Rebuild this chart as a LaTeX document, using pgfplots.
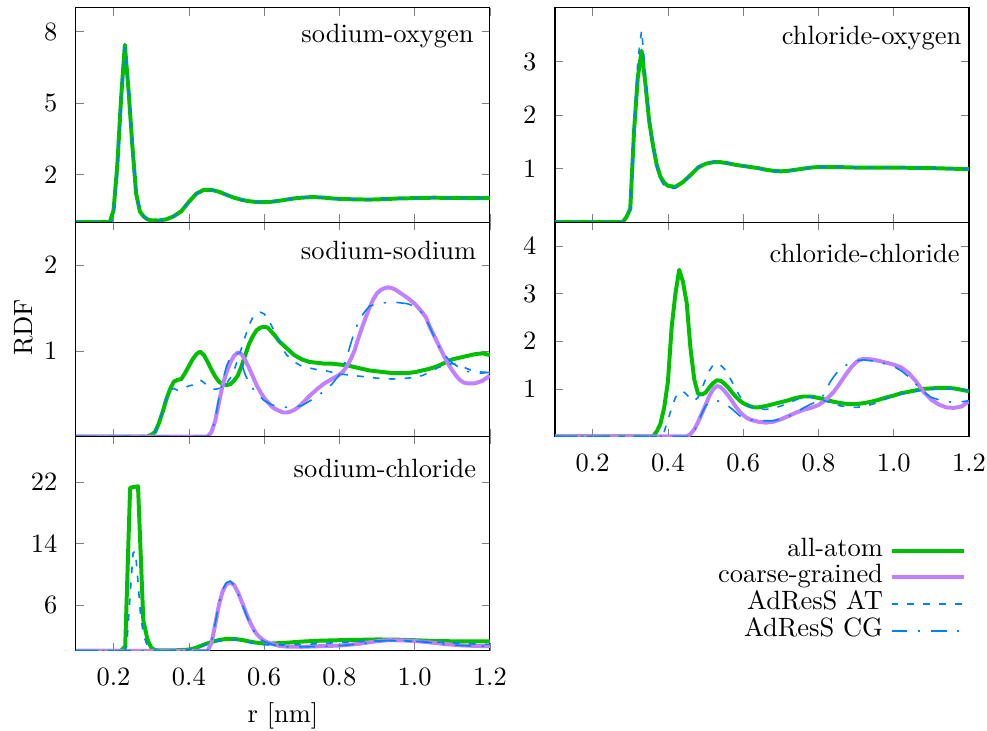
\documentclass[border=0pt]{standalone}
\usepackage{pgfplots}
\pgfplotsset{compat=1.18}
\usepgfplotslibrary{groupplots}
\usetikzlibrary{calc}

\definecolor{cAA}{RGB}{0,190,0}
\definecolor{cCG}{RGB}{192,128,255}
\definecolor{cAd}{RGB}{0,128,255}

\pgfplotsset{
  allatom/.style={color=cAA, line width=1.5pt, line join=round},
  coarse/.style={color=cCG, line width=1.5pt, line join=round},
  adat/.style={color=cAd, line width=0.6pt, dash pattern=on 2.5pt off 3.5pt},
  adcg/.style={color=cAd, line width=0.6pt, dash pattern=on 6pt off 4pt on 0.8pt off 4pt},
}
\newcommand{\plabel}[3]{\node[anchor=north east, inner sep=0pt, xshift=-#2, yshift=-#3] at (rel axis cs:1,1) {#1};}

\begin{document}
\begin{tikzpicture}
\begin{groupplot}[
    group style={group size=2 by 3, horizontal sep=24.6pt, vertical sep=0pt},
    width=156.5pt, height=81pt, scale only axis,
    xmin=0.1, xmax=1.2,
    xtick={0.2,0.4,0.6,0.8,1.0,1.2},
    xticklabels={},
    xticklabel style={/pgf/number format/.cd, fixed, fixed zerofill, precision=1},
    major tick length=3pt,
    xticklabel shift=3pt, yticklabel shift=3.5pt,
    ymin=0, no markers,
    legend cell align=right, legend plot pos=right,
    legend image code/.code={\draw[#1] (0pt,0pt) -- (27.2pt,0pt);},
  ]

% sodium-oxygen
\nextgroupplot[ymax=9, ytick={2,5,8}]
\addplot[allatom] coordinates {(0.10,0) (0.19,0) (0.20,0.5) (0.21,2.4) (0.22,5.2) (0.23,7.45) (0.24,5.5) (0.25,3.2) (0.26,1.2) (0.27,0.45) (0.28,0.24) (0.29,0.12) (0.30,0.08) (0.32,0.07) (0.34,0.12) (0.36,0.25) (0.38,0.46) (0.40,0.85) (0.42,1.2) (0.44,1.36) (0.46,1.36) (0.48,1.28) (0.50,1.15) (0.52,1.03) (0.54,0.94) (0.56,0.88) (0.58,0.85) (0.60,0.84) (0.62,0.86) (0.64,0.90) (0.66,0.95) (0.68,1.00) (0.70,1.03) (0.72,1.05) (0.74,1.05) (0.76,1.03) (0.78,1.00) (0.80,0.98) (0.84,0.96) (0.88,0.95) (0.92,0.97) (0.96,1.00) (1.00,1.01) (1.05,1.03) (1.10,1.02) (1.15,1.01) (1.20,1.01)};
\addplot[adat] coordinates {(0.10,0) (0.195,0) (0.20,0.3) (0.21,1.9) (0.22,5.0) (0.23,7.35) (0.24,5.6) (0.25,3.3) (0.26,1.2) (0.27,0.45) (0.28,0.24) (0.29,0.12) (0.30,0.08) (0.32,0.07) (0.34,0.12) (0.36,0.25) (0.38,0.46) (0.40,0.85) (0.42,1.2) (0.44,1.36) (0.46,1.36) (0.48,1.28) (0.50,1.15) (0.52,1.03) (0.54,0.94) (0.56,0.88) (0.58,0.85) (0.60,0.84) (0.62,0.86) (0.64,0.90) (0.66,0.95) (0.68,1.00) (0.70,1.03) (0.72,1.05) (0.74,1.05) (0.76,1.03) (0.78,1.00) (0.80,0.98) (0.84,0.96) (0.88,0.95) (0.92,0.97) (0.96,1.00) (1.00,1.01) (1.05,1.03) (1.10,1.02) (1.15,1.01) (1.20,1.01)};
\plabel{sodium-oxygen}{6.0pt}{6.0pt}

% chloride-oxygen
\nextgroupplot[ymax=4, ytick={1,2,3}]
\addplot[allatom] coordinates {(0.10,0) (0.28,0) (0.29,0.1) (0.30,0.25) (0.31,1.7) (0.32,2.7) (0.33,3.2) (0.34,2.6) (0.35,1.9) (0.36,1.45) (0.37,1.08) (0.38,0.85) (0.39,0.74) (0.40,0.68) (0.42,0.66) (0.44,0.75) (0.46,0.88) (0.48,1.02) (0.50,1.09) (0.52,1.12) (0.54,1.12) (0.56,1.10) (0.58,1.07) (0.60,1.05) (0.62,1.03) (0.64,1.01) (0.66,0.98) (0.68,0.96) (0.70,0.95) (0.72,0.96) (0.74,0.98) (0.76,1.00) (0.78,1.02) (0.80,1.03) (0.85,1.03) (0.90,1.02) (1.00,1.02) (1.10,1.01) (1.20,0.99)};
\addplot[adat] coordinates {(0.10,0) (0.28,0) (0.29,0.1) (0.30,0.25) (0.31,1.8) (0.32,3.0) (0.33,3.58) (0.34,2.8) (0.35,1.95) (0.36,1.4) (0.37,1.02) (0.38,0.8) (0.39,0.68) (0.40,0.62) (0.42,0.64) (0.44,0.74) (0.46,0.88) (0.48,1.03) (0.50,1.10) (0.52,1.13) (0.54,1.13) (0.56,1.10) (0.58,1.07) (0.60,1.05) (0.62,1.03) (0.64,1.01) (0.66,0.98) (0.68,0.96) (0.70,0.95) (0.72,0.96) (0.74,0.98) (0.76,1.00) (0.78,1.02) (0.80,1.03) (0.85,1.03) (0.90,1.02) (1.00,1.02) (1.10,1.01) (1.20,0.99)};
\plabel{chloride-oxygen}{2.7pt}{6.8pt}

% sodium-sodium
\nextgroupplot[ymax=2.5, ytick={1,2},
  ylabel={RDF}, ylabel style={at={(axis description cs:0,0.51)}, anchor=center, yshift=19.7pt}]
\addplot[allatom] coordinates {(0.10,0) (0.29,0) (0.30,0.02) (0.31,0.05) (0.32,0.15) (0.33,0.28) (0.34,0.43) (0.35,0.55) (0.36,0.64) (0.37,0.66) (0.38,0.67) (0.39,0.74) (0.40,0.82) (0.41,0.90) (0.42,0.96) (0.43,0.99) (0.44,0.95) (0.45,0.87) (0.46,0.78) (0.47,0.70) (0.48,0.64) (0.49,0.61) (0.50,0.60) (0.51,0.61) (0.52,0.65) (0.53,0.71) (0.54,0.82) (0.55,0.95) (0.56,1.08) (0.57,1.17) (0.58,1.24) (0.59,1.27) (0.60,1.28) (0.61,1.27) (0.62,1.22) (0.63,1.17) (0.64,1.11) (0.66,1.03) (0.68,0.95) (0.70,0.90) (0.72,0.87) (0.74,0.86) (0.76,0.85) (0.78,0.85) (0.80,0.84) (0.82,0.83) (0.84,0.81) (0.86,0.79) (0.88,0.77) (0.90,0.76) (0.92,0.75) (0.94,0.74) (0.96,0.74) (0.98,0.74) (1.00,0.75) (1.02,0.77) (1.04,0.79) (1.06,0.82) (1.08,0.86) (1.10,0.90) (1.12,0.92) (1.14,0.94) (1.16,0.96) (1.18,0.97) (1.20,0.95)};
\addplot[coarse] coordinates {(0.10,0) (0.45,0) (0.46,0.05) (0.47,0.18) (0.48,0.40) (0.49,0.60) (0.50,0.75) (0.51,0.86) (0.52,0.94) (0.53,0.98) (0.54,0.96) (0.55,0.89) (0.56,0.80) (0.57,0.70) (0.58,0.60) (0.59,0.52) (0.60,0.45) (0.61,0.40) (0.62,0.35) (0.63,0.32) (0.64,0.30) (0.65,0.28) (0.66,0.28) (0.67,0.29) (0.68,0.31) (0.69,0.34) (0.70,0.38) (0.72,0.47) (0.74,0.55) (0.76,0.62) (0.78,0.67) (0.80,0.72) (0.81,0.76) (0.82,0.82) (0.83,0.90) (0.84,1.00) (0.85,1.14) (0.86,1.27) (0.87,1.39) (0.88,1.50) (0.89,1.60) (0.90,1.67) (0.91,1.71) (0.92,1.73) (0.93,1.74) (0.94,1.73) (0.95,1.71) (0.96,1.68) (0.98,1.62) (1.00,1.55) (1.02,1.45) (1.03,1.39) (1.04,1.28) (1.05,1.19) (1.06,1.10) (1.07,1.01) (1.08,0.92) (1.09,0.84) (1.10,0.77) (1.11,0.71) (1.12,0.66) (1.13,0.63) (1.14,0.62) (1.16,0.62) (1.18,0.65) (1.20,0.71)};
\addplot[adat] coordinates {(0.10,0) (0.29,0) (0.30,0.02) (0.31,0.05) (0.32,0.15) (0.33,0.30) (0.34,0.45) (0.35,0.54) (0.36,0.56) (0.37,0.54) (0.38,0.55) (0.39,0.57) (0.40,0.59) (0.41,0.60) (0.42,0.63) (0.43,0.66) (0.44,0.63) (0.45,0.59) (0.46,0.56) (0.47,0.55) (0.48,0.56) (0.49,0.59) (0.50,0.62) (0.51,0.68) (0.52,0.77) (0.53,0.90) (0.54,1.03) (0.55,1.17) (0.56,1.30) (0.57,1.39) (0.58,1.44) (0.59,1.45) (0.60,1.43) (0.61,1.38) (0.62,1.29) (0.63,1.20) (0.64,1.11) (0.65,1.02) (0.66,0.95) (0.68,0.87) (0.70,0.82) (0.72,0.80) (0.74,0.78) (0.76,0.77) (0.78,0.75) (0.80,0.73) (0.82,0.72) (0.84,0.71) (0.86,0.70) (0.90,0.68) (0.94,0.67) (0.98,0.68) (1.00,0.69) (1.02,0.71) (1.04,0.75) (1.06,0.80) (1.08,0.83) (1.10,0.85) (1.12,0.83) (1.14,0.79) (1.16,0.76) (1.18,0.75) (1.20,0.75)};
\addplot[adcg] coordinates {(0.10,0) (0.45,0) (0.46,0.05) (0.47,0.20) (0.48,0.45) (0.49,0.65) (0.50,0.82) (0.51,0.92) (0.52,0.96) (0.53,0.97) (0.54,0.85) (0.55,0.72) (0.56,0.63) (0.57,0.56) (0.58,0.50) (0.60,0.42) (0.62,0.37) (0.64,0.35) (0.66,0.34) (0.68,0.34) (0.70,0.36) (0.72,0.41) (0.74,0.47) (0.76,0.53) (0.78,0.61) (0.80,0.72) (0.81,0.80) (0.82,0.93) (0.83,1.08) (0.84,1.22) (0.85,1.33) (0.86,1.41) (0.87,1.47) (0.88,1.52) (0.90,1.55) (0.92,1.56) (0.94,1.57) (0.96,1.56) (0.98,1.55) (1.00,1.52) (1.02,1.44) (1.03,1.37) (1.04,1.28) (1.05,1.18) (1.06,1.09) (1.07,1.01) (1.08,0.95) (1.09,0.90) (1.10,0.86) (1.12,0.80) (1.14,0.76) (1.16,0.74) (1.18,0.74) (1.20,0.75)};
\plabel{sodium-sodium}{5.0pt}{6.9pt}

% chloride-chloride
\nextgroupplot[ymax=4.5, ytick={1,2,3,4}, xticklabels={0.2,0.4,0.6,0.8,1.0,1.2}]
\addplot[allatom] coordinates {(0.10,0) (0.36,0) (0.37,0.1) (0.38,0.26) (0.39,0.6) (0.40,1.15) (0.41,2.3) (0.42,3.0) (0.43,3.5) (0.44,3.25) (0.45,2.8) (0.46,1.85) (0.47,1.2) (0.48,0.9) (0.49,0.88) (0.50,0.92) (0.51,1.03) (0.52,1.12) (0.53,1.18) (0.54,1.17) (0.55,1.11) (0.56,1.03) (0.57,0.93) (0.58,0.84) (0.59,0.76) (0.60,0.70) (0.61,0.66) (0.62,0.63) (0.63,0.61) (0.64,0.61) (0.66,0.64) (0.68,0.68) (0.70,0.72) (0.72,0.76) (0.74,0.81) (0.76,0.84) (0.78,0.84) (0.80,0.81) (0.82,0.77) (0.84,0.73) (0.86,0.70) (0.88,0.68) (0.90,0.68) (0.92,0.70) (0.94,0.73) (0.96,0.77) (0.98,0.82) (1.00,0.86) (1.02,0.91) (1.04,0.94) (1.06,0.97) (1.08,1.00) (1.10,1.01) (1.12,1.02) (1.14,1.02) (1.16,1.01) (1.18,0.98) (1.20,0.95)};
\addplot[coarse] coordinates {(0.10,0) (0.45,0) (0.46,0.05) (0.47,0.15) (0.48,0.30) (0.49,0.48) (0.50,0.66) (0.51,0.85) (0.52,0.99) (0.53,1.06) (0.54,1.04) (0.55,0.96) (0.56,0.86) (0.57,0.75) (0.58,0.63) (0.59,0.53) (0.60,0.45) (0.61,0.39) (0.62,0.35) (0.64,0.31) (0.66,0.29) (0.68,0.31) (0.70,0.36) (0.72,0.43) (0.74,0.50) (0.76,0.56) (0.78,0.60) (0.80,0.66) (0.82,0.77) (0.84,0.93) (0.85,1.04) (0.86,1.15) (0.87,1.27) (0.88,1.38) (0.89,1.48) (0.90,1.56) (0.91,1.61) (0.92,1.63) (0.94,1.62) (0.96,1.59) (0.98,1.55) (1.00,1.51) (1.02,1.45) (1.04,1.33) (1.06,1.15) (1.08,0.93) (1.10,0.77) (1.12,0.67) (1.14,0.61) (1.16,0.60) (1.18,0.63) (1.20,0.74)};
\addplot[adat] coordinates {(0.10,0) (0.38,0) (0.39,0.1) (0.40,0.35) (0.41,0.6) (0.42,0.82) (0.43,0.93) (0.44,0.95) (0.45,0.88) (0.46,0.79) (0.47,0.75) (0.48,0.82) (0.49,1.00) (0.50,1.20) (0.51,1.38) (0.52,1.50) (0.53,1.54) (0.54,1.50) (0.55,1.42) (0.56,1.30) (0.57,1.15) (0.58,1.00) (0.59,0.86) (0.60,0.75) (0.61,0.68) (0.62,0.62) (0.64,0.58) (0.66,0.57) (0.68,0.59) (0.70,0.64) (0.72,0.70) (0.74,0.77) (0.76,0.82) (0.78,0.83) (0.80,0.80) (0.82,0.74) (0.84,0.68) (0.86,0.64) (0.88,0.62) (0.90,0.61) (0.92,0.63) (0.94,0.67) (0.96,0.72) (0.98,0.79) (1.00,0.85) (1.04,0.93) (1.08,0.98) (1.12,1.00) (1.16,1.00) (1.20,0.97)};
\addplot[adcg] coordinates {(0.10,0) (0.46,0) (0.47,0.1) (0.48,0.30) (0.49,0.48) (0.50,0.64) (0.51,0.72) (0.52,0.75) (0.53,0.75) (0.54,0.73) (0.55,0.69) (0.56,0.64) (0.57,0.58) (0.58,0.51) (0.59,0.44) (0.60,0.39) (0.62,0.35) (0.64,0.33) (0.66,0.33) (0.68,0.33) (0.70,0.37) (0.72,0.42) (0.74,0.50) (0.76,0.60) (0.78,0.68) (0.80,0.75) (0.81,0.83) (0.82,0.96) (0.83,1.13) (0.84,1.25) (0.85,1.35) (0.86,1.43) (0.88,1.53) (0.90,1.59) (0.92,1.61) (0.94,1.59) (0.96,1.57) (0.98,1.52) (1.00,1.47) (1.02,1.38) (1.04,1.25) (1.06,1.09) (1.08,0.93) (1.10,0.82) (1.12,0.77) (1.14,0.73) (1.16,0.72) (1.18,0.73) (1.20,0.75)};
\plabel{chloride-chloride}{3.4pt}{8.2pt}

% sodium-chloride
\nextgroupplot[ymax=28, ytick={6,14,22}, xticklabels={0.2,0.4,0.6,0.8,1.0,1.2},
  xlabel={r [nm]}, xlabel style={at={(axis description cs:0.5,0)}, anchor=center, yshift=-24.6pt},
  legend style={draw=none, fill=none, at={(2.15,0.28)}, anchor=east, inner sep=0pt,
    row sep=0pt, column sep=1.5pt, nodes={inner sep=1pt, text height=6.1pt, text depth=2pt}}]
\addplot[allatom] coordinates {(0.10,0) (0.22,0) (0.231,0.6) (0.244,21.3) (0.265,21.5) (0.279,4.0) (0.29,1.5) (0.30,0.4) (0.31,0.1) (0.32,0.05) (0.36,0.05) (0.40,0.15) (0.42,0.4) (0.44,0.8) (0.46,1.15) (0.48,1.4) (0.50,1.55) (0.52,1.56) (0.54,1.42) (0.56,1.22) (0.58,1.05) (0.60,0.96) (0.62,0.95) (0.66,1.05) (0.70,1.20) (0.75,1.32) (0.80,1.38) (0.85,1.43) (0.90,1.48) (0.95,1.46) (1.00,1.38) (1.05,1.28) (1.10,1.24) (1.15,1.22) (1.20,1.22)};
\addplot[coarse] coordinates {(0.10,0) (0.45,0) (0.46,1.0) (0.47,3.4) (0.48,6.0) (0.49,7.8) (0.50,8.7) (0.51,8.95) (0.52,8.6) (0.53,7.7) (0.54,6.5) (0.55,5.2) (0.56,4.0) (0.57,3.0) (0.58,2.2) (0.59,1.7) (0.60,1.3) (0.62,0.9) (0.64,0.65) (0.66,0.55) (0.70,0.52) (0.75,0.60) (0.80,0.68) (0.85,0.90) (0.90,1.25) (0.93,1.38) (0.96,1.37) (1.00,1.28) (1.04,1.10) (1.08,0.88) (1.12,0.72) (1.16,0.63) (1.20,0.60)};
\addplot[adat] coordinates {(0.10,0) (0.23,0) (0.235,0.6) (0.245,8.0) (0.252,12.8) (0.258,13.0) (0.265,9.0) (0.272,4.5) (0.28,2.0) (0.29,0.6) (0.30,0.1) (0.32,0.05) (0.40,0.1) (0.42,0.35) (0.44,0.7) (0.46,1.05) (0.48,1.3) (0.50,1.45) (0.52,1.46) (0.54,1.30) (0.56,1.10) (0.58,0.90) (0.60,0.80) (0.64,0.75) (0.70,0.80) (0.75,0.95) (0.80,1.08) (0.85,1.20) (0.90,1.28) (0.95,1.30) (1.00,1.26) (1.05,1.15) (1.10,1.02) (1.15,0.90) (1.20,0.83)};
\addplot[adcg] coordinates {(0.10,0) (0.45,0) (0.46,1.1) (0.47,3.6) (0.48,6.2) (0.49,8.0) (0.50,8.9) (0.51,9.1) (0.52,8.6) (0.53,7.6) (0.54,6.3) (0.55,5.0) (0.56,3.8) (0.57,2.8) (0.58,2.0) (0.59,1.5) (0.60,1.2) (0.62,0.85) (0.64,0.62) (0.66,0.52) (0.70,0.50) (0.75,0.58) (0.80,0.66) (0.85,0.88) (0.90,1.22) (0.93,1.35) (0.96,1.35) (1.00,1.26) (1.04,1.08) (1.08,0.86) (1.12,0.70) (1.16,0.62) (1.20,0.58)};
\legend{all-atom, coarse-grained, AdResS AT, AdResS CG}
\plabel{sodium-chloride}{5.0pt}{8.4pt}
\end{groupplot}
\pgfresetboundingbox
\path ($(group c1r1.north west)+(-28.7pt,3.0pt)$) rectangle ($(group c1r1.north west)+(344.4pt,-273.3pt)$);
\end{tikzpicture}
\end{document}
